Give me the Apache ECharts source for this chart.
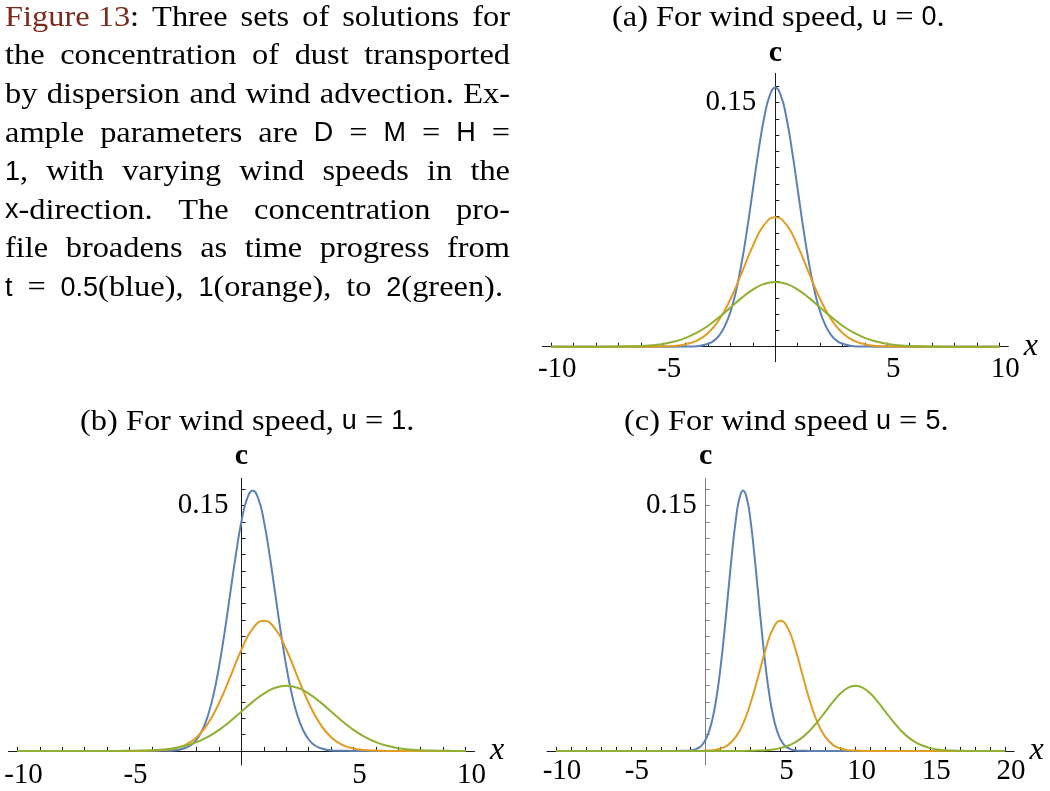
<!DOCTYPE html>
<html><head><meta charset="utf-8">
<script src="https://cdn.jsdelivr.net/npm/echarts@6/dist/echarts.min.js"></script>
<style>html,body{margin:0;padding:0;background:#fff}#c{width:1050px;height:791px}</style>
</head><body><div id="c"></div><script>
// ---------- data ----------
// concentration profiles (same shape in every panel, shifted by wind)
const blueY = [0, 0, 0.0001, 0.0003, 0.0018, 0.0036, 0.0070, 0.0127, 0.0215, 0.0344, 0.0517, 0.0729, 0.0966, 0.1202, 0.1405, 0.1543, 0.1592, 0.1543, 0.1405, 0.1202, 0.0966, 0.0729, 0.0517, 0.0344, 0.0215, 0.0127, 0.0070, 0.0036, 0.0018, 0.0003, 0.0001, 0, 0];
const orangeY = [0, 0, 0.0002, 0.0005, 0.0015, 0.0037, 0.0084, 0.0167, 0.0293, 0.0453, 0.0620, 0.0748, 0.0796, 0.0748, 0.0620, 0.0453, 0.0293, 0.0167, 0.0084, 0.0037, 0.0015, 0.0005, 0.0002, 0, 0];
const greenY = [0, 0, 0.0001, 0.0002, 0.0004, 0.0009, 0.0017, 0.0032, 0.0054, 0.0086, 0.0129, 0.0182, 0.0241, 0.0300, 0.0351, 0.0386, 0.0398, 0.0386, 0.0351, 0.0300, 0.0241, 0.0182, 0.0129, 0.0086, 0.0054, 0.0032, 0.0017, 0.0009, 0.0004, 0.0002, 0.0001, 0, 0];

// (a) u = 0
const aBlueX = [-10, -4.5, -4, -3.5, -3, -2.75, -2.5, -2.25, -2, -1.75, -1.5, -1.25, -1, -0.75, -0.5, -0.25, 0, 0.25, 0.5, 0.75, 1, 1.25, 1.5, 1.75, 2, 2.25, 2.5, 2.75, 3, 3.5, 4, 4.5, 10];
const aOrangeX = [-10, -5.5, -5, -4.5, -4, -3.5, -3, -2.5, -2, -1.5, -1, -0.5, 0, 0.5, 1, 1.5, 2, 2.5, 3, 3.5, 4, 4.5, 5, 5.5, 10];
const aGreenX = [-10, -7.5, -7, -6.5, -6, -5.5, -5, -4.5, -4, -3.5, -3, -2.5, -2, -1.5, -1, -0.5, 0, 0.5, 1, 1.5, 2, 2.5, 3, 3.5, 4, 4.5, 5, 5.5, 6, 6.5, 7, 7.5, 10];
// (b) u = 1
const bBlueX = [-10, -4, -3.5, -3, -2.5, -2.25, -2, -1.75, -1.5, -1.25, -1, -0.75, -0.5, -0.25, 0, 0.25, 0.5, 0.75, 1, 1.25, 1.5, 1.75, 2, 2.25, 2.5, 2.75, 3, 3.25, 3.5, 4, 4.5, 5, 10];
const bOrangeX = [-10, -4.5, -4, -3.5, -3, -2.5, -2, -1.5, -1, -0.5, 0, 0.5, 1, 1.5, 2, 2.5, 3, 3.5, 4, 4.5, 5, 5.5, 6, 6.5, 10];
const bGreenX = [-10, -5.5, -5, -4.5, -4, -3.5, -3, -2.5, -2, -1.5, -1, -0.5, 0, 0.5, 1, 1.5, 2, 2.5, 3, 3.5, 4, 4.5, 5, 5.5, 6, 6.5, 7, 7.5, 8, 8.5, 9, 9.5, 10];
// (c) u = 5
const cBlueX = [-10, -2, -1.5, -1, -0.5, -0.25, 0, 0.25, 0.5, 0.75, 1, 1.25, 1.5, 1.75, 2, 2.25, 2.5, 2.75, 3, 3.25, 3.5, 3.75, 4, 4.25, 4.5, 4.75, 5, 5.25, 5.5, 6, 6.5, 7, 20];
const cOrangeX = [-10, -0.5, 0, 0.5, 1, 1.5, 2, 2.5, 3, 3.5, 4, 4.5, 5, 5.5, 6, 6.5, 7, 7.5, 8, 8.5, 9, 9.5, 10, 10.5, 20];
const cGreenX = [-10, 2.5, 3, 3.5, 4, 4.5, 5, 5.5, 6, 6.5, 7, 7.5, 8, 8.5, 9, 9.5, 10, 10.5, 11, 11.5, 12, 12.5, 13, 13.5, 14, 14.5, 15, 15.5, 16, 16.5, 17, 17.5, 20];

// ticks and labels
const xTicksAB = [-10, -9, -8, -7, -6, -5, -4, -3, -2, -1, 1, 2, 3, 4, 5, 6, 7, 8, 9, 10];
const xLabelsAB = [-10, -5, 5, 10];
const xTicksC = [-10, -9, -8, -7, -6, -5, -4, -3, -2, -1, 1, 2, 3, 4, 5, 6, 7, 8, 9, 10, 11, 12, 13, 14, 15, 16, 17, 18, 19, 20];
const xLabelsC = [-10, -5, 5, 10, 15, 20];
const yTicks = [0.01, 0.02, 0.03, 0.04, 0.05, 0.06, 0.07, 0.08, 0.09, 0.10, 0.11, 0.12, 0.13, 0.14, 0.15, 0.16];
const yLabels = [0.15];

// texts
const panelTitles = [
  [["(a) For wind speed, ", "r"], ["u", "m"], [" = ", "r"], ["0", "m"], [".", "r"]],
  [["(b) For wind speed, ", "r"], ["u", "m"], [" = ", "r"], ["1", "m"], [".", "r"]],
  [["(c) For wind speed ", "r"], ["u", "m"], [" = ", "r"], ["5", "m"], [".", "r"]]
];
const captionLines = [
  [[["Figure 13", "f"], [":", "r"]], "Three", "sets", "of", "solutions", "for"],
  ["the", "concentration", "of", "dust", "transported"],
  ["by", "dispersion", "and", "wind", "advection.", "Ex-"],
  ["ample", "parameters", "are", [["D", "m"]], "=", [["M", "m"]], "=", [["H", "m"]], "="],
  [[["1", "m"], [",", "r"]], "with", "varying", "wind", "speeds", "in", "the"],
  [[["x", "m"], ["-direction.", "r"]], "The", "concentration", "pro-"],
  ["file", "broadens", "as", "time", "progress", "from"],
  [[["t", "m"]], "=", [["0.5", "m"], ["(blue),", "r"]], [["1", "m"], ["(orange),", "r"]], "to", [["2", "m"], ["(green).", "r"]]]
];

// ---------- rendering ----------
const SERIF = '"Liberation Serif", "Times New Roman", serif';
const SANS = '"Liberation Sans", Arial, sans-serif';
const COLORS = ['#5E81B5', '#E19C24', '#8FB032'];
const FONTS = {
  r: { size: 30, family: SERIF, color: '#000', sx: 1.08 },
  f: { size: 30, family: SERIF, color: '#7c2a1c', sx: 1.08 },
  m: { size: 27, family: SANS, color: '#000', sx: 1.0 }
};
const mctx = document.createElement('canvas').getContext('2d');
function fontStr(k) { const f = FONTS[k]; return 'normal normal ' + f.size + 'px ' + f.family; }
function measure(t, k) { mctx.font = fontStr(k); return mctx.measureText(t).width * FONTS[k].sx; }
function textEl(t, k, x, y) {
  return { type: 'text', x: x, y: y, scaleX: FONTS[k].sx, silent: true,
    style: { text: t, font: fontStr(k), fill: FONTS[k].color, textAlign: 'left', textVerticalAlign: 'middle', align: 'left', verticalAlign: 'middle' } };
}
const graphics = [];
function normTok(tok) { return typeof tok === 'string' ? [[tok, 'r']] : tok; }
function layoutLine(tokens, x0, x1, y) {
  const toks = tokens.map(normTok);
  const widths = toks.map(t => t.reduce((s, seg) => s + measure(seg[0], seg[1]), 0));
  const total = widths.reduce((a, b) => a + b, 0);
  const gap = (x1 - x0 - total) / (toks.length - 1);
  let x = x0;
  toks.forEach((t, i) => {
    t.forEach(seg => { graphics.push(textEl(seg[0], seg[1], x, y)); x += measure(seg[0], seg[1]); });
    x += gap;
  });
}
function layoutRuns(runs, x0, y) {
  let x = x0;
  runs.forEach(seg => { graphics.push(textEl(seg[0], seg[1], x, y)); x += measure(seg[0], seg[1]); });
}
captionLines.forEach((ln, i) => {
  const y = 18 + i * 38.6;
  layoutLine(ln, 5, i === captionLines.length - 1 ? 503 : 510, y);
});
layoutRuns(panelTitles[0], 612, 18);
layoutRuns(panelTitles[1], 80, 422);
layoutRuns(panelTitles[2], 624, 422);

function zip(xs, ys) { return xs.map((x, i) => [x, ys[i]]); }

function xAx(g, min, max, off, ticks, labels, margin, nameGap) {
  return { type: 'value', gridIndex: g, min: min, max: max, position: 'bottom', offset: off, splitLine: { show: false },
    axisLine: { onZero: false, lineStyle: { color: '#1a1a1a', width: 1 } },
    axisTick: { show: true, inside: true, length: 4, customValues: ticks, lineStyle: { color: '#1a1a1a', width: 1 } },
    axisLabel: { customValues: labels, formatter: v => String(v), fontFamily: SERIF, fontSize: 29, color: '#000', margin: margin, padding: [0, 0, 0, 12] },
    name: 'x', nameLocation: 'end', nameGap: nameGap,
    nameTextStyle: { fontFamily: SERIF, fontStyle: 'italic', fontSize: 32, color: '#000' } };
}
function yAx(g, min, max, off, margin, nameGap, col) {
  return { type: 'value', gridIndex: g, min: min, max: max, position: 'left', offset: off, splitLine: { show: false },
    axisLine: { onZero: false, lineStyle: { color: col, width: 1 } },
    axisTick: { show: true, inside: true, length: 4, customValues: yTicks, lineStyle: { color: col, width: 1 } },
    axisLabel: { customValues: yLabels, formatter: v => v.toFixed(2), fontFamily: SERIF, fontSize: 29, color: '#000', margin: margin, padding: [0, 0, 12, 0] },
    name: 'c', nameLocation: 'end', nameGap: nameGap,
    nameTextStyle: { fontFamily: SERIF, fontWeight: 'bold', fontSize: 30, color: '#000' } };
}
function ser(name, g, data, ci) {
  return { name: name, type: 'line', xAxisIndex: g, yAxisIndex: g, data: data, smooth: 0.5,
    symbol: 'none', showSymbol: false, clip: true, color: COLORS[ci],
    lineStyle: { color: COLORS[ci], width: 2 }, z: 3 + ci };
}

const option = {
  animation: false,
  backgroundColor: '#fff',
  grid: [
    { left: 542.3, top: 73.3, width: 466, height: 288.4, outerBoundsMode: 'none', containLabel: false },
    { left: 8.5, top: 478.3, width: 466, height: 286.7, outerBoundsMode: 'none', containLabel: false },
    { left: 547, top: 478.3, width: 467.1, height: 286.7, outerBoundsMode: 'none', containLabel: false }
  ],
  xAxis: [
    xAx(0, -10.4, 10.4, -15.0, xTicksAB, xLabelsAB, 8, 10),
    xAx(1, -10.4, 10.4, -14.1, xTicksAB, xLabelsAB, 10, 12),
    xAx(2, -10.6, 20.6, -14.1, xTicksC, xLabelsC, 6, 11)
  ],
  yAxis: [
    yAx(0, -0.00922, 0.168, -233, 19, 5, '#1a1a1a'),
    yAx(1, -0.0086, 0.1667, -233, 13, 7, '#1a1a1a'),
    yAx(2, -0.0086, 0.1667, -158.7, 9, 7, '#808080')
  ],
  series: [
    ser('a t=0.5', 0, zip(aBlueX, blueY), 0),
    ser('a t=1', 0, zip(aOrangeX, orangeY), 1),
    ser('a t=2', 0, zip(aGreenX, greenY), 2),
    ser('b t=0.5', 1, zip(bBlueX, blueY), 0),
    ser('b t=1', 1, zip(bOrangeX, orangeY), 1),
    ser('b t=2', 1, zip(bGreenX, greenY), 2),
    ser('c t=0.5', 2, zip(cBlueX, blueY), 0),
    ser('c t=1', 2, zip(cOrangeX, orangeY), 1),
    ser('c t=2', 2, zip(cGreenX, greenY), 2)
  ],
  graphic: graphics
};
const chart = echarts.init(document.getElementById('c'));
chart.setOption(option);
</script></body></html>
